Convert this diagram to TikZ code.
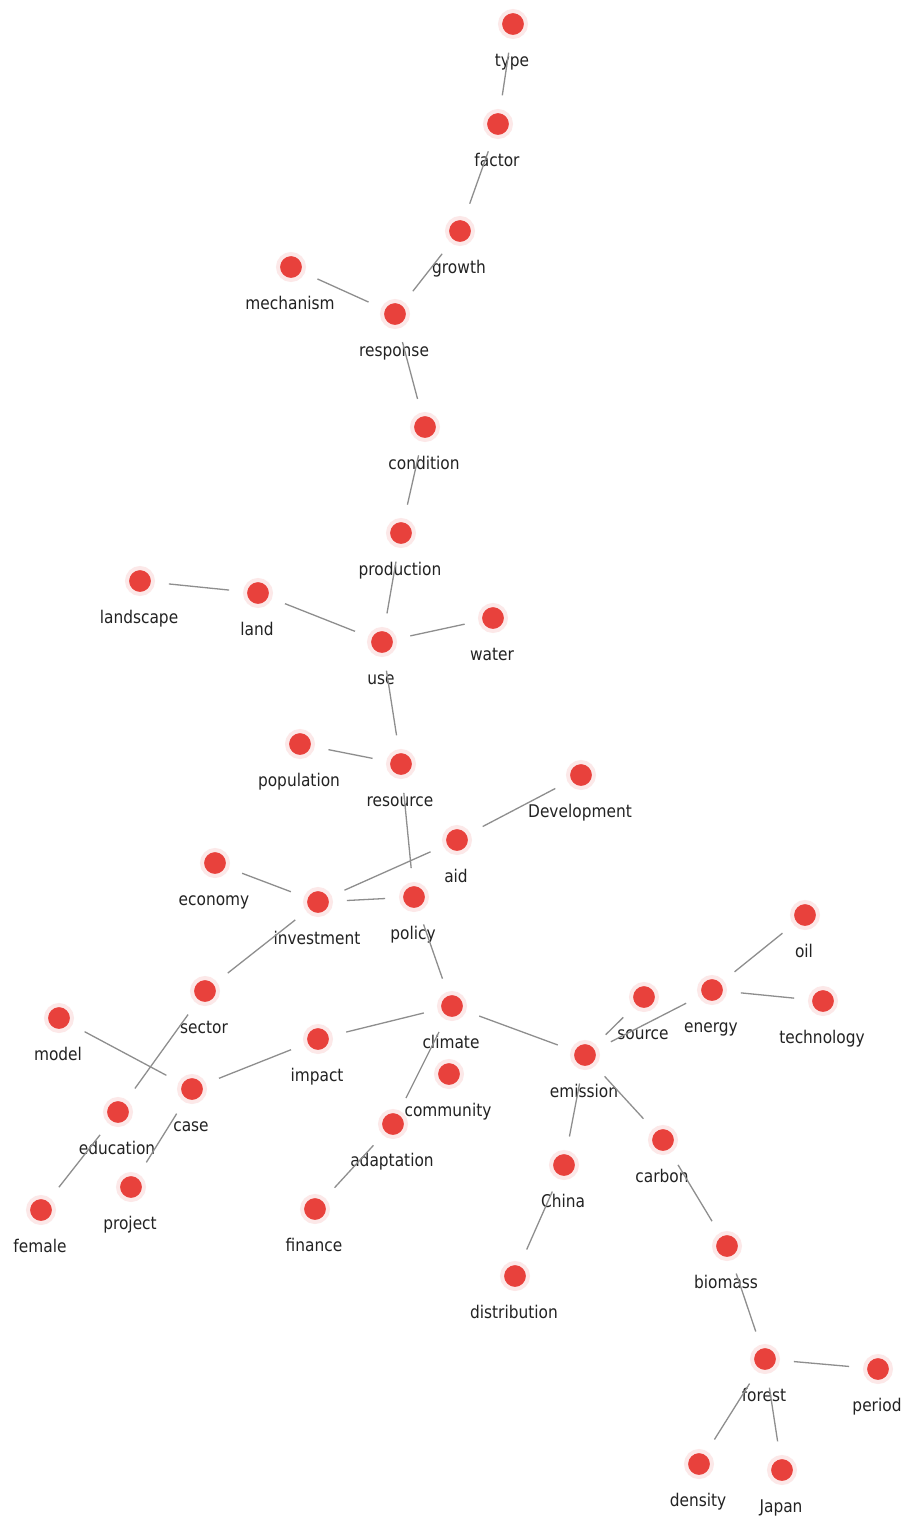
\documentclass[tikz,border=0pt]{standalone}
\usepackage{fontspec}
\setmainfont{DejaVu Sans}[FakeStretch=0.88]
\definecolor{dotred}{HTML}{E8413C}
\definecolor{edgegray}{HTML}{8E8E8E}
\definecolor{labelgray}{HTML}{222222}
\tikzset{
  dot/.style={circle, fill=dotred, draw=dotred!12, line width=4pt,
              minimum size=26pt, inner sep=0pt, outer sep=16pt},
  lbl/.style={anchor=base, inner sep=0pt, text=labelgray,
              font=\fontsize{17.5}{20}\selectfont},
  link/.style={draw=edgegray, line width=1.3pt}
}
% keyword node with its caption underneath
\newcommand\kw[4]{%
  \node[dot] (#1) at (#2,#3) {};
  \node[lbl] (#1-l) at ([xshift=-1pt,yshift=-42pt]#1.center) {#4};}
\begin{document}
\begin{tikzpicture}[x=1pt,y=-1pt]
\useasboundingbox[fill=white] (0,0) rectangle (907,1519);
\kw{type}{513}{24}{type}
\kw{factor}{498}{124}{factor}
\kw{growth}{460}{231}{growth}
\kw{mechanism}{291}{267}{mechanism}
\kw{response}{395}{314}{response}
\kw{condition}{425}{427}{condition}
\kw{production}{401}{533}{production}
\kw{landscape}{140}{581}{landscape}
\kw{land}{258}{593}{land}
\kw{use}{382}{642}{use}
\kw{water}{493}{618}{water}
\kw{population}{300}{744}{population}
\kw{resource}{401}{764}{resource}
\kw{development}{581}{775}{Development}
\kw{aid}{457}{840}{aid}
\kw{economy}{215}{863}{economy}
\kw{investment}{318}{902}{investment}
\kw{policy}{414}{897}{policy}
\kw{oil}{805}{915}{oil}
\kw{energy}{712}{990}{energy}
\kw{technology}{823}{1001}{technology}
\kw{sector}{205}{991}{sector}
\kw{source}{644}{997}{source}
\kw{climate}{452}{1006}{climate}
\kw{model}{59}{1018}{model}
\kw{impact}{318}{1039}{impact}
\kw{emission}{585}{1055}{emission}
\kw{community}{449}{1074}{community}
\kw{case}{192}{1089}{case}
\kw{education}{118}{1112}{education}
\kw{adaptation}{393}{1124}{adaptation}
\kw{carbon}{663}{1140}{carbon}
\kw{china}{564}{1165}{China}
\kw{project}{131}{1187}{project}
\kw{female}{41}{1210}{female}
\kw{finance}{315}{1209}{finance}
\kw{biomass}{727}{1246}{biomass}
\kw{distribution}{515}{1276}{distribution}
\kw{forest}{765}{1359}{forest}
\kw{period}{878}{1369}{period}
\kw{density}{699}{1464}{density}
\kw{japan}{782}{1470}{Japan}
% co-occurrence links
\foreach \a/\b in {type/factor, factor/growth, growth/response,
  mechanism/response, response/condition, condition/production,
  production/use, landscape/land, land/use, use/water, use/resource,
  population/resource, resource/policy, development/aid,
  aid/investment, economy/investment, investment/policy,
  investment/sector, policy/climate, sector/education,
  education/female, model/case, case/impact, case/project,
  impact/climate, climate/emission, climate/adaptation,
  adaptation/finance, emission/source, emission/energy, energy/oil,
  energy/technology, emission/china, emission/carbon,
  china/distribution, carbon/biomass, biomass/forest, forest/period,
  forest/density, forest/japan}
  \draw[link] (\a) -- (\b);
\end{tikzpicture}
\end{document}
